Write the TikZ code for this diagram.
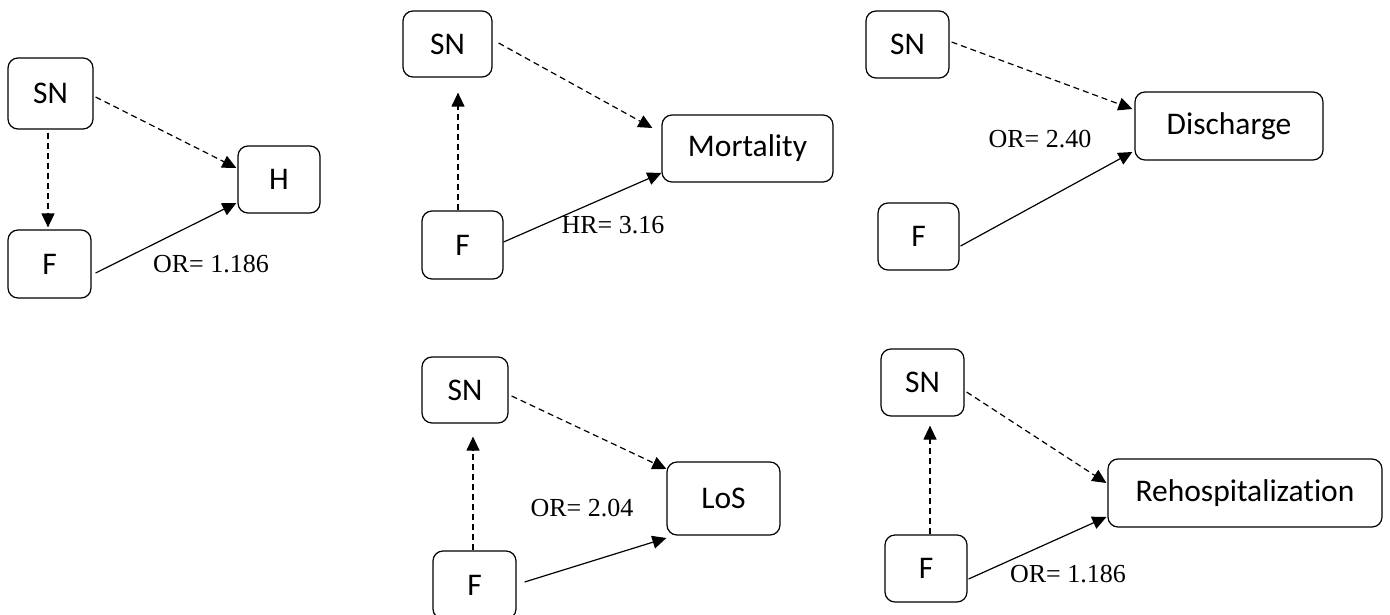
\documentclass[tikz,border=0pt]{standalone}
\usepackage{fontspec}
\setmainfont[Ligatures={NoCommon,NoRequired,NoContextual}]{Carlito}
\newfontfamily\labelfont{Liberation Serif}
\usetikzlibrary{arrows.meta,calc}

\tikzset{
  box/.style={draw, rounded corners=10pt, line width=1.2pt, inner sep=0pt,
    font=\fontsize{31.5}{38}\selectfont},
  assoc/.style={line width=1.2pt, -{Triangle[length=14pt,width=13pt]}},
  weak/.style={assoc, dash pattern=on 6pt off 4pt},
  effect/.style={font=\labelfont\fontsize{26}{31}\selectfont, inner sep=0pt}
}

\begin{document}
\begin{tikzpicture}[x=1pt,y=-1pt]
\useasboundingbox (0,0) rectangle (1390,615);

% Hospitalization
\node[box, minimum width=85pt, minimum height=71pt] (SN1) at (50.5,93.5) {SN};
\node[box, minimum width=82pt, minimum height=67pt] (H1)  at (279,179.5) {H};
\node[box, minimum width=83pt, minimum height=68pt] (F1)  at (49.5,264) {F};
\draw[weak]   ($(SN1.east)+(2,3.5)$)   -- ($(H1.west)+(-1,-11.5)$);
\draw[weak]   ($(SN1.south)+(-2.5,3)$) -- ($(F1.north)+(-1.5,-2)$);
\draw[assoc]  ($(F1.east)+(4,9)$)      -- ($(H1.west)+(-1,23.5)$);
\node[effect] (e1) at (211,264) {OR= 1.186};

% Mortality
\node[box, minimum width=89pt, minimum height=66pt]  (SN2) at (447.5,44) {SN};
\node[box, minimum width=171pt, minimum height=67pt] (M2)  at (747.5,148.5) {Mortality};
\node[box, minimum width=81pt, minimum height=68pt]  (F2)  at (462.5,245) {F};
\draw[weak]   ($(F2.north)+(-4.5,0)$) -- ($(SN2.south)+(10.5,15)$);
\draw[weak]   ($(SN2.east)+(6,-1)$)   -- ($(M2.west)+(-9,-20.5)$);
\draw[assoc]  ($(F2.east)+(0,-3)$)    -- ($(M2.west)+(0,24.5)$);
\node[effect] (e2) at (613,225) {HR= 3.16};

% Discharge
\node[box, minimum width=83pt, minimum height=67pt]  (SN3) at (907.5,44.5) {SN};
\node[box, minimum width=188pt, minimum height=68pt] (D3)  at (1229,126) {Discharge};
\node[box, minimum width=81pt, minimum height=67pt]  (F3)  at (918.5,236.5) {F};
\draw[weak]   ($(SN3.east)+(2,-2.5)$) -- ($(D3.west)+(-2,-17)$);
\draw[assoc]  ($(F3.east)+(1,9.5)$)   -- ($(D3.west)+(-2,26)$);
\node[effect] (e3) at (1040,139) {OR= 2.40};

% Length of stay
\node[box, minimum width=86pt, minimum height=66pt]  (SN4) at (465,390) {SN};
\node[box, minimum width=113pt, minimum height=73pt] (L4)  at (723.5,498.5) {LoS};
\node[box, minimum width=83pt, minimum height=68pt]  (F4)  at (474.5,585) {F};
\draw[weak]   ($(F4.north)+(-1.5,0)$) -- ($(SN4.south)+(8,13)$);
\draw[weak]   ($(SN4.east)+(3,6)$)    -- ($(L4.west)+(0,-29.5)$);
\draw[assoc]  ($(F4.east)+(8,-3)$)    -- ($(L4.west)+(0,39.5)$);
\node[effect] (e4) at (582,508) {OR= 2.04};

% Rehospitalization
\node[box, minimum width=83pt, minimum height=67pt]  (SN5) at (922.5,382.5) {SN};
\node[box, minimum width=274pt, minimum height=68pt] (R5)  at (1245,493) {Rehospitalization};
\node[box, minimum width=82pt, minimum height=67pt]  (F5)  at (926,568.5) {F};
\draw[weak]   ($(F5.north)+(4,0)$)    -- ($(SN5.south)+(7.5,9)$);
\draw[weak]   ($(SN5.east)+(2,9.5)$)  -- ($(R5.west)+(-1,-10)$);
\draw[assoc]  ($(F5.east)+(1,10.5)$)  -- ($(R5.west)+(-1,24)$);
\node[effect] (e5) at (1068,574) {OR= 1.186};
\end{tikzpicture}
\end{document}
